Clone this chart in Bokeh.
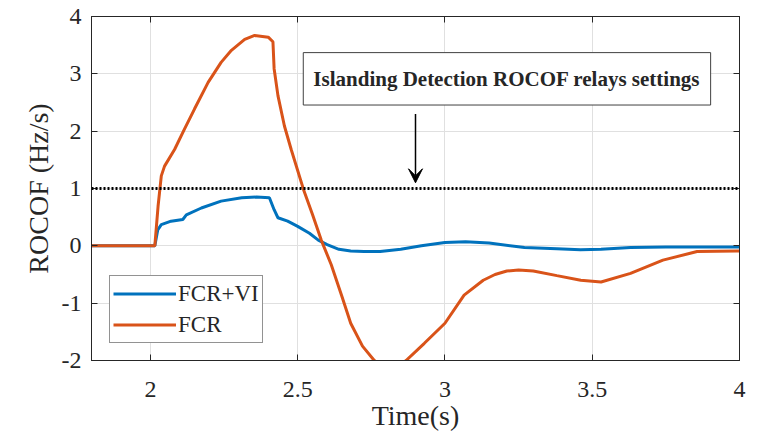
from bokeh.plotting import figure
from bokeh.models import (Range1d, LinearAxis, FixedTicker, Legend, LegendItem,
                          Span, BoxAnnotation, Label, Arrow, VeeHead, CustomJSTickFormatter)
from bokeh.embed import file_html
from bokeh.resources import INLINE

# ---- data ----
t_vi = [1.8, 2.0, 2.015, 2.025, 2.037, 2.07, 2.11, 2.122, 2.173, 2.24, 2.31,
        2.36, 2.404, 2.42, 2.433, 2.466, 2.5, 2.54, 2.57, 2.6, 2.64, 2.68,
        2.725, 2.78, 2.85, 2.92, 3.0, 3.07, 3.15, 3.27, 3.38, 3.46, 3.53, 3.63, 3.75, 3.9, 4.0]
fcr_vi = [0.0, 0.0, 0.0, 0.28, 0.37, 0.43, 0.46, 0.54, 0.66, 0.78, 0.84,
          0.85, 0.84, 0.63, 0.49, 0.43, 0.34, 0.22, 0.1, 0.02, -0.06, -0.09,
          -0.1, -0.1, -0.06, 0.0, 0.06, 0.07, 0.05, -0.03, -0.05, -0.07, -0.06, -0.03, -0.02, -0.02, -0.02]

t_fcr = [1.8, 2.015, 2.026, 2.037, 2.048, 2.082, 2.116, 2.15, 2.196, 2.24, 2.275, 2.32,
         2.354, 2.4, 2.416, 2.42, 2.433, 2.455, 2.478, 2.52, 2.55, 2.58, 2.614,
         2.65, 2.68, 2.72, 2.76, 2.81, 2.868, 2.93, 3.0, 3.065, 3.13, 3.17, 3.21, 3.25,
         3.3, 3.38, 3.461, 3.53, 3.63, 3.74, 3.856, 3.99, 4.0]
fcr = [0.0, 0.0, 0.69, 1.22, 1.39, 1.68, 2.04, 2.39, 2.85, 3.2, 3.41, 3.6,
       3.67, 3.64, 3.56, 3.09, 2.62, 2.09, 1.68, 0.98, 0.55, 0.1, -0.33,
       -0.88, -1.35, -1.75, -2.0, -2.22, -2.0, -1.7, -1.35, -0.86, -0.6, -0.5, -0.44, -0.42,
       -0.44, -0.52, -0.6, -0.63, -0.48, -0.25, -0.1, -0.09, -0.09]

x_ticks = [2, 2.5, 3, 3.5, 4]
y_ticks = [-2, -1, 0, 1, 2, 3, 4]
threshold = 1.0
annot_text = "Islanding Detection ROCOF relays settings"
annot_box = dict(left=2.519, right=3.902, bottom=2.456, top=3.37)
annot_pos = (3.21, 2.91)
arrow_pos = (2.9, 2.3, 2.9, 1.1)

BLUE = "#0072BD"
ORANGE = "#D95319"
TXT = "#262626"
FONT = "Liberation Serif"

p = figure(width=763, height=442, output_backend="svg", toolbar_location=None,
           x_range=Range1d(1.8, 4), y_range=Range1d(-2, 4),
           min_border_left=91, min_border_right=24, min_border_top=16, min_border_bottom=82)
p.background_fill_color = "white"
p.border_fill_color = "white"
p.outline_line_color = TXT
p.outline_line_width = 1

plain = CustomJSTickFormatter(code="return tick.toString();")
for ax, ticks in ((p.xaxis[0], x_ticks), (p.yaxis[0], y_ticks)):
    ax.ticker = FixedTicker(ticks=ticks)
    ax.formatter = plain
    ax.major_tick_in = 6
    ax.major_tick_out = 0
    ax.minor_tick_in = 0
    ax.minor_tick_out = 0
    ax.axis_line_color = TXT
    ax.major_tick_line_color = TXT
    ax.major_label_text_font = FONT
    ax.major_label_text_color = TXT
    ax.major_label_text_font_size = "24px"
    ax.axis_label_text_font = FONT
    ax.axis_label_text_color = TXT
    ax.axis_label_text_font_style = "normal"
    ax.axis_label_text_font_size = "28px"

p.xaxis[0].axis_label = "Time(s)"
p.xaxis[0].major_label_standoff = 21
p.xaxis[0].axis_label_standoff = 0
p.yaxis[0].axis_label = "ROCOF (Hz/s)"
p.yaxis[0].major_label_standoff = 10
p.yaxis[0].axis_label_standoff = 5

blank = CustomJSTickFormatter(code="return '';")
for loc, ticks in (("right", y_ticks), ("above", x_ticks)):
    ax = LinearAxis(ticker=FixedTicker(ticks=ticks), formatter=blank,
                    major_tick_in=6, major_tick_out=0, minor_tick_in=0, minor_tick_out=0,
                    axis_line_color=TXT, major_tick_line_color=TXT,
                    major_label_standoff=0, major_label_text_font_size="1px")
    p.add_layout(ax, loc)

p.xgrid.ticker = FixedTicker(ticks=x_ticks)
p.ygrid.ticker = FixedTicker(ticks=y_ticks)
p.xgrid.grid_line_color = "#e0e0e0"
p.ygrid.grid_line_color = "#e0e0e0"

r_vi = p.line(t_vi, fcr_vi, line_color=BLUE, line_width=3)
r_fcr = p.line(t_fcr, fcr, line_color=ORANGE, line_width=3)

p.add_layout(Span(location=threshold, dimension="width", line_color="black",
                  line_width=3, line_dash="2 2"))

p.add_layout(BoxAnnotation(fill_color="white", fill_alpha=1.0, line_color="#404040",
                           line_width=1, line_alpha=1.0, **annot_box))
p.add_layout(Label(x=annot_pos[0], y=annot_pos[1], text=annot_text,
                   text_font=FONT, text_font_style="bold", text_font_size="21px",
                   text_color=TXT, text_align="center", text_baseline="middle"))
p.add_layout(Arrow(end=VeeHead(size=14, fill_color="black", line_color="black"),
                   x_start=arrow_pos[0], y_start=arrow_pos[1],
                   x_end=arrow_pos[2], y_end=arrow_pos[3],
                   line_color="black", line_width=1.5))

legend = Legend(items=[LegendItem(label="FCR+VI", renderers=[r_vi]),
                       LegendItem(label="FCR", renderers=[r_fcr])],
                location=(18, 17))
legend.border_line_color = TXT
legend.border_line_width = 1
legend.background_fill_color = "white"
legend.background_fill_alpha = 1.0
legend.padding = 3
legend.spacing = 2
legend.margin = 0
legend.glyph_width = 63
legend.glyph_height = 29
legend.label_height = 29
legend.label_standoff = 2
legend.label_text_font = FONT
legend.label_text_font_size = "23px"
legend.label_text_color = TXT
p.add_layout(legend)

open("out.html", "w").write(file_html(p, INLINE))
